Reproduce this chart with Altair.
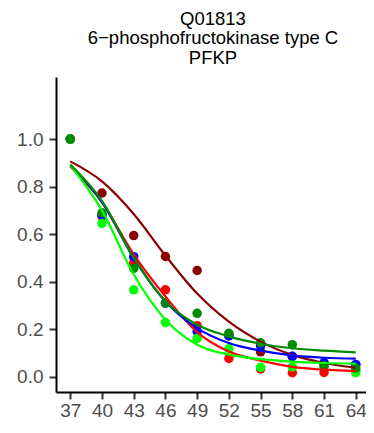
import altair as alt
import pandas as pd

temps = [37, 40, 43, 46, 49, 52, 55, 58, 61, 64]
series = ["darkred", "red", "blue", "lime", "green"]
colors = ["#8B0000", "#FF0000", "#0000FF", "#00FF00", "#008B00"]

# measured points (relative abundance)
pts_darkred = [1.0, 0.773, 0.594, 0.506, 0.447, 0.178, 0.105, 0.085, 0.050, 0.050]
pts_red     = [1.0, 0.675, 0.480, 0.366, 0.215, 0.077, 0.033, 0.017, 0.018, 0.026]
pts_blue    = [1.0, 0.680, 0.505, 0.310, 0.190, 0.172, 0.130, 0.086, 0.060, 0.052]
pts_lime    = [1.0, 0.645, 0.366, 0.228, 0.162, 0.118, 0.040, 0.042, 0.045, 0.017]
pts_green   = [1.0, 0.690, 0.456, 0.310, 0.267, 0.183, 0.143, 0.135, 0.045, 0.036]

# fitted curves read at each temperature
fit_darkred = [0.906, 0.822, 0.685, 0.510, 0.350, 0.232, 0.148, 0.092, 0.058, 0.038]
fit_red     = [0.885, 0.735, 0.515, 0.338, 0.188, 0.106, 0.068, 0.042, 0.030, 0.024]
fit_blue    = [0.890, 0.735, 0.500, 0.317, 0.205, 0.142, 0.110, 0.090, 0.080, 0.076]
fit_lime    = [0.890, 0.700, 0.430, 0.240, 0.135, 0.093, 0.074, 0.064, 0.058, 0.055]
fit_green   = [0.893, 0.740, 0.500, 0.318, 0.219, 0.170, 0.139, 0.120, 0.110, 0.103]

pts = {"darkred": pts_darkred, "red": pts_red, "blue": pts_blue, "lime": pts_lime, "green": pts_green}
fits = {"darkred": fit_darkred, "red": fit_red, "blue": fit_blue, "lime": fit_lime, "green": fit_green}

rows_p, rows_f = [], []
for s in series:
    for t, v in zip(temps, pts[s]):
        rows_p.append({"temp": t, "value": v, "series": s})
    for t, v in zip(temps, fits[s]):
        rows_f.append({"temp": t, "value": v, "series": s})
df_p = pd.DataFrame(rows_p)
df_f = pd.DataFrame(rows_f)

xscale = alt.Scale(domain=[35.65, 64.97], nice=False, zero=False)
yscale = alt.Scale(domain=[-0.064, 1.261], nice=False, zero=False)
cscale = alt.Scale(domain=series, range=colors)

xaxis = alt.Axis(values=temps, title=None, grid=False, labelPadding=2)
yaxis = alt.Axis(values=[0, 0.2, 0.4, 0.6, 0.8, 1.0], format=".1f", title=None, grid=False, labelPadding=6)

points = alt.Chart(df_p).mark_circle(size=90, opacity=1).encode(
    x=alt.X("temp:Q", scale=xscale, axis=xaxis),
    y=alt.Y("value:Q", scale=yscale, axis=yaxis),
    color=alt.Color("series:N", scale=cscale, legend=None),
)

lines = alt.Chart(df_f).mark_line(strokeWidth=2.2, interpolate="monotone").encode(
    x=alt.X("temp:Q", scale=xscale, axis=xaxis),
    y=alt.Y("value:Q", scale=yscale, axis=yaxis),
    color=alt.Color("series:N", scale=cscale, legend=None),
)

chart = alt.layer(points, lines).properties(
    width=310,
    height=315,
    autosize=alt.AutoSizeParams(type="none"),
    padding={"left": 48, "top": 69, "right": 0, "bottom": 30},
    title=alt.TitleParams(
        text=["Q01813", "6\u2212phosphofructokinase type C", "PFKP"],
        fontSize=18.5,
        font="Liberation Sans",
        fontWeight="normal",
        color="black",
        anchor="middle",
        dx=2,
        frame="group",
        lineHeight=19.5,
        offset=10,
    ),
).configure_view(strokeWidth=0).configure_axis(
    domainColor="black",
    domainWidth=2,
    tickColor="#333333",
    tickWidth=2,
    tickSize=7,
    labelColor="#4D4D4D",
    labelFontSize=19,
    labelFont="Liberation Sans",
)

chart.save("out.html", embed_options={"renderer": "svg", "actions": False})
